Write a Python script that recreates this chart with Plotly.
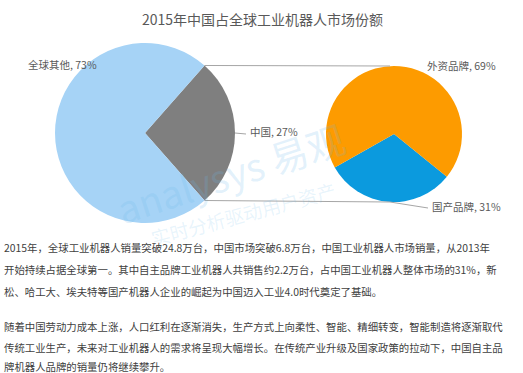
import math
import plotly.graph_objects as go

W, H = 523, 373

title = "2015年中国占全球工业机器人市场份额"
left_labels = ["中国", "全球其他"]
left_values = [27, 73]
right_labels = ["国产品牌", "外资品牌"]
right_values = [31, 69]

para1 = [
    "2015年，全球工业机器人销量突破24.8万台，中国市场突破6.8万台，中国工业机器人市场销量，从2013年",
    "开始持续占据全球第一。其中自主品牌工业机器人共销售约2.2万台，占中国工业机器人整体市场的31%，新",
    "松、哈工大、埃夫特等国产机器人企业的崛起为中国迈入工业4.0时代奠定了基础。",
]
para2 = [
    "随着中国劳动力成本上涨，人口红利在逐渐消失，生产方式上向柔性、智能、精细转变，智能制造将逐渐取代",
    "传统工业生产，未来对工业机器人的需求将呈现大幅增长。在传统产业升级及国家政策的拉动下，中国自主品",
    "牌机器人品牌的销量仍将继续攀升。",
]

FONT = "Noto Sans CJK SC"

# pie geometry (pixels)
LCX, LCY, LR = 145, 133, 90
RCX, RCY, RR = 394, 134, 68


def px(x):
    return x / W


def py(y):
    return 1 - y / H


def dom(cx, cy, r):
    return dict(x=[px(cx - r), px(cx + r)], y=[py(cy + r), py(cy - r)])


half = left_values[0] / sum(left_values) * 360 / 2

fig = go.Figure()

fig.add_trace(go.Pie(
    labels=left_labels, values=left_values, sort=False,
    direction="clockwise", rotation=90 - half,
    marker=dict(colors=["#7f7f7f", "#a6d3f6"], line=dict(width=0)),
    textinfo="none", hoverinfo="label+percent",
    domain=dom(LCX, LCY, LR), showlegend=False,
))
fig.add_trace(go.Pie(
    labels=right_labels, values=right_values, sort=False,
    direction="clockwise", rotation=129,
    marker=dict(colors=["#0b9ade", "#fd9b00"], line=dict(width=0)),
    textinfo="none", hoverinfo="label+percent",
    domain=dom(RCX, RCY, RR), showlegend=False,
))

# connector endpoints derived from slice geometry
ux = LCX + LR * math.cos(math.radians(half))
uy = LCY - LR * math.sin(math.radians(half))
lx = ux
ly = LCY + LR * math.sin(math.radians(half))

line_style = dict(color="#a6a6a6", width=1)
shapes = []
for (x0, y0, x1, y1) in [
    (ux, uy, RCX - 4, RCY - RR),
    (lx, ly, RCX - 4, RCY + RR),
    (RCX - 4, RCY + RR, 428, 208),
    (LCX + LR, LCY, 246, 134),
]:
    shapes.append(dict(type="line", xref="paper", yref="paper",
                       x0=px(x0), y0=py(y0), x1=px(x1), y1=py(y1), line=line_style))


def A(text, x, y, font, xanchor="left", angle=0):
    return dict(text=text, x=px(x), y=py(y), xref="paper", yref="paper",
                xanchor=xanchor, yanchor="middle", showarrow=False,
                textangle=angle, font=font)


ann = []
# watermark
ann.append(A("analysys 易观", 230, 172,
             dict(family=FONT, size=38, color="rgba(110,185,235,0.2)"), "center", -18))
ann.append(A("实时分析驱动用户资产", 243, 213,
             dict(family=FONT, size=19, color="rgba(110,185,235,0.16)"), "center", -15))

ann.append(A(title, 262, 19, dict(family=FONT, size=14, color="#595959"), "center"))

lab_font = dict(family=FONT, size=10.5, color="#595959")
ann.append(A(f"{left_labels[1]}, {left_values[1]}%", 26, 64, lab_font))
ann.append(A(f"{left_labels[0]}, {left_values[0]}%", 248, 131, lab_font))
ann.append(A(f"{right_labels[1]}, {right_values[1]}%", 425, 65, lab_font))
ann.append(A(f"{right_labels[0]}, {right_values[0]}%", 430, 206, lab_font))

txt_font = dict(family=FONT, size=10.4, color="#404040")
for line, yy in zip(para1, [247, 269, 291]):
    ann.append(A(line, 2, yy, txt_font))
for line, yy in zip(para2, [326, 347, 366]):
    ann.append(A(line, 2, yy, txt_font))

fig.update_layout(
    width=W, height=H, margin=dict(l=0, r=0, t=0, b=0),
    paper_bgcolor="white", plot_bgcolor="white",
    shapes=shapes, annotations=ann,
)

fig.write_html("out.html", config={"displayModeBar": False},
               post_script="document.body.style.margin='0px';")
